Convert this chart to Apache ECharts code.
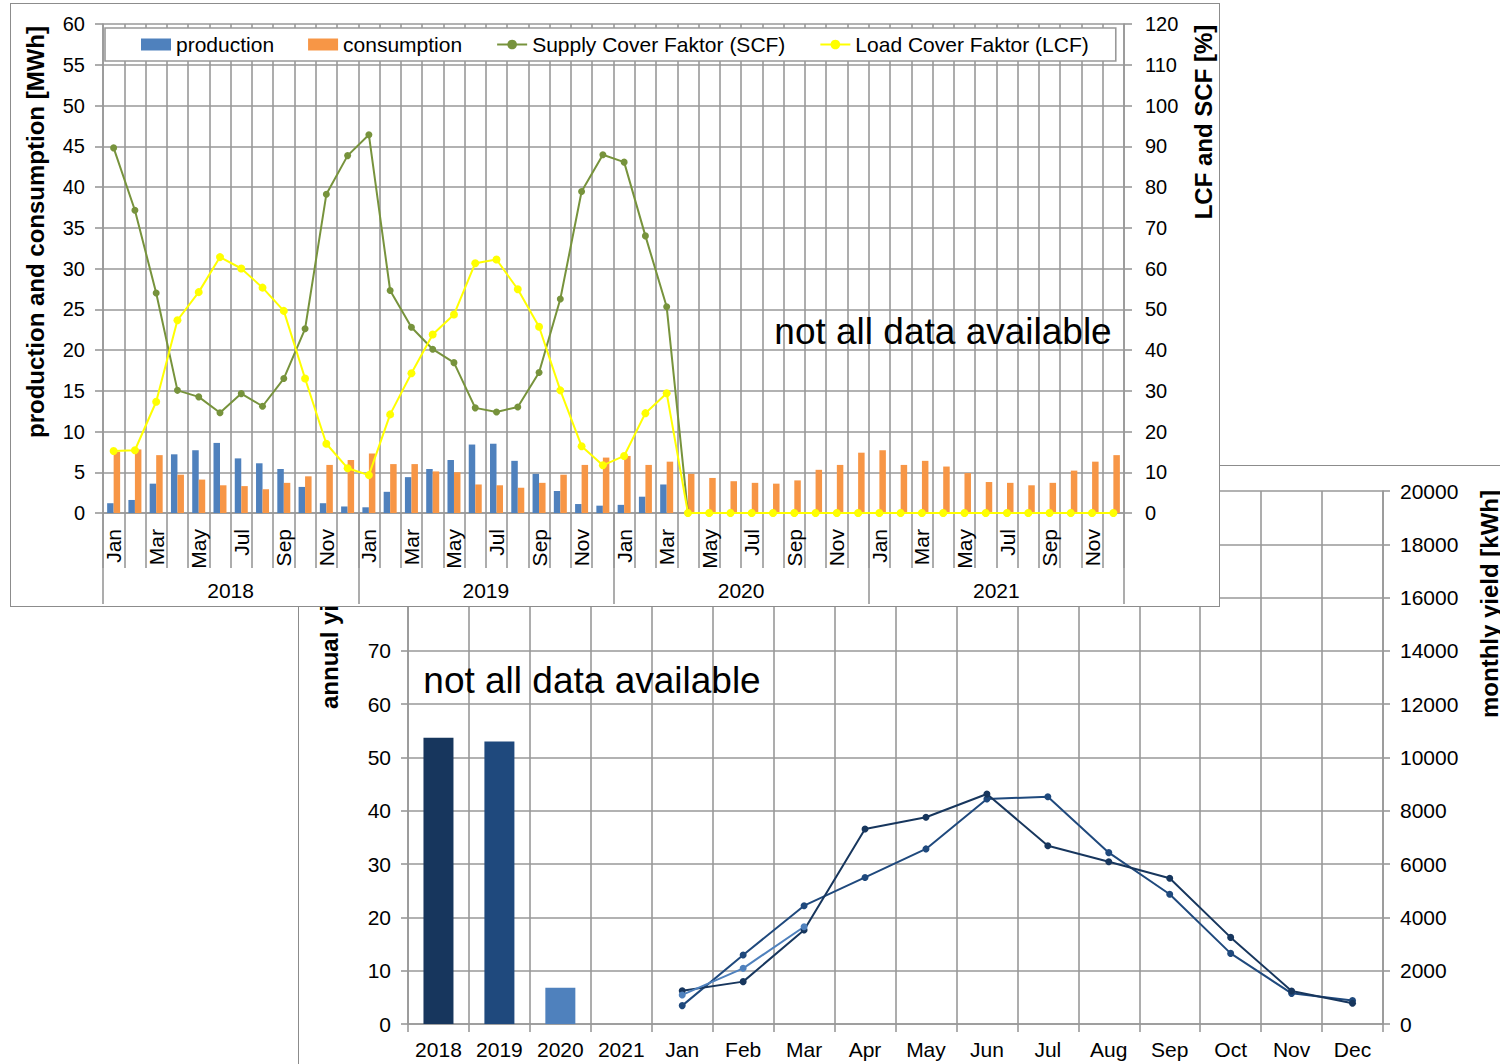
<!DOCTYPE html>
<html><head><meta charset="utf-8">
<script src="https://cdn.jsdelivr.net/npm/echarts/dist/echarts.min.js"></script>
<style>
html,body{margin:0;padding:0;width:1500px;height:1064px;overflow:hidden;background:#fff;}
#bottom{position:absolute;left:298px;top:465px;width:1300px;height:700px;border:1px solid #8c8c8c;background:#fff;}
#top{position:absolute;left:10px;top:3px;width:1208px;height:602px;border:1px solid #8c8c8c;background:#fff;}
</style></head><body>
<div id="bottom"></div><div id="top"></div>
<script>
// ---- data ----
const months = ['Jan','Feb','Mar','Apr','May','Jun','Jul','Aug','Sep','Oct','Nov','Dec'];
const years = ['2018','2019','2020','2021'];

// top chart (MWh), Jan 2018 .. Mar 2020
const production = [1.2, 1.6, 3.6, 7.2, 7.7, 8.6, 6.7, 6.1, 5.4, 3.2, 1.2, 0.8,
                    0.7, 2.6, 4.4, 5.4, 6.5, 8.4, 8.5, 6.4, 4.8, 2.7, 1.1, 0.9,
                    1.0, 2.0, 3.5];
// Jan 2018 .. Dec 2021 (MWh)
const consumption = [7.5, 7.8, 7.1, 4.7, 4.1, 3.4, 3.3, 2.9, 3.7, 4.5, 5.9, 6.5,
                     7.3, 6.0, 6.0, 5.1, 5.0, 3.5, 3.4, 3.1, 3.7, 4.7, 5.9, 6.8,
                     7.0, 5.9, 6.3, 4.8, 4.3, 3.9, 3.7, 3.6, 4.0, 5.3, 5.9, 7.4,
                     7.7, 5.9, 6.4, 5.7, 4.9, 3.8, 3.7, 3.4, 3.7, 5.2, 6.3, 7.1];
// %
const scf = [89.6, 74.3, 54.0, 30.1, 28.5, 24.6, 29.3, 26.2, 33.0, 45.2, 78.2, 87.7,
             92.8, 54.6, 45.6, 40.2, 36.9, 25.8, 24.8, 26.0, 34.5, 52.5, 78.9, 87.9,
             86.1, 68.0, 50.6, 0, 0, 0, 0, 0, 0, 0, 0, 0,
             0, 0, 0, 0, 0, 0, 0, 0, 0, 0, 0, 0];
const lcf = [15.2, 15.4, 27.3, 47.3, 54.2, 62.8, 60.0, 55.3, 49.6, 33.0, 17.0, 11.0,
             9.3, 24.2, 34.3, 43.8, 48.7, 61.3, 62.2, 54.9, 45.7, 30.1, 16.4, 11.7,
             14.0, 24.5, 29.4, 0, 0, 0, 0, 0, 0, 0, 0, 0,
             0, 0, 0, 0, 0, 0, 0, 0, 0, 0, 0, 0];

// bottom chart
const annualYield = [53.7, 53.0, 6.8, null];          // MWh
const monthly2018 = [1250, 1590, 3530, 7320, 7760, 8630, 6690, 6090, 5470, 3250, 1240, 780]; // kWh
const monthly2019 = [690, 2590, 4440, 5500, 6570, 8440, 8530, 6430, 4870, 2650, 1150, 880];
const monthly2020 = [1090, 2090, 3650];

// ---- styles ----
const FONT = '"Liberation Sans", Arial, sans-serif';
const GRID = '#999999';
const GW = 1.6;
const yearColors = ['#17365d', '#1f497d', '#4f81bd'];

// ---- top chart ----
const topCats = [];
years.forEach(function () { months.forEach(function (m) { topCats.push(m); }); });

const topChart = echarts.init(document.getElementById('top'), null, {renderer: 'svg'});
topChart.setOption({
  animation: false,
  textStyle: {fontFamily: FONT},
  grid: {left: 92, top: 20, width: 1021, height: 489},
  legend: {
    left: 94, top: 24, padding: [6, 27, 6, 36], itemGap: 34, itemWidth: 30, itemHeight: 12,
    backgroundColor: '#fff', borderColor: GRID, borderWidth: 1.6,
    textStyle: {fontSize: 21, color: '#000', fontFamily: FONT},
    data: [{name: 'production', icon: 'rect'}, {name: 'consumption', icon: 'rect'},
           'Supply Cover Faktor (SCF)', 'Load Cover Faktor (LCF)']
  },
  xAxis: [
    {type: 'category', data: topCats, boundaryGap: true,
     axisLine: {lineStyle: {color: GRID, width: GW}},
     axisTick: {show: true, interval: 0, length: 55, lineStyle: {color: GRID, width: GW}},
     axisLabel: {interval: 1, rotate: 90, margin: 16, fontSize: 21, color: '#000', fontFamily: FONT},
     splitLine: {show: true, interval: 0, lineStyle: {color: GRID, width: GW}}},
    {type: 'category', data: years, position: 'bottom', offset: 0, boundaryGap: true,
     axisLine: {show: false},
     axisTick: {show: true, interval: 0, length: 91, lineStyle: {color: GRID, width: GW}},
     axisLabel: {interval: 0, margin: 67, fontSize: 21, color: '#000', fontFamily: FONT},
     splitLine: {show: false}}
  ],
  yAxis: [
    {type: 'value', min: 0, max: 60, interval: 5, position: 'left',
     axisLine: {show: true, lineStyle: {color: GRID, width: GW}},
     axisTick: {show: true, length: 8, lineStyle: {color: GRID, width: GW}},
     axisLabel: {margin: 18, fontSize: 20, color: '#000', fontFamily: FONT},
     splitLine: {show: true, lineStyle: {color: GRID, width: GW}}},
    {type: 'value', min: 0, max: 120, interval: 10, position: 'right',
     axisLine: {show: true, lineStyle: {color: GRID, width: GW}},
     axisTick: {show: true, length: 8, lineStyle: {color: GRID, width: GW}},
     axisLabel: {margin: 21, fontSize: 20, color: '#000', fontFamily: FONT},
     splitLine: {show: false}}
  ],
  series: [
    {name: 'production', type: 'bar', xAxisIndex: 0, yAxisIndex: 0, data: production,
     barWidth: 6.5, barGap: '0%', itemStyle: {color: '#4f81bd'}},
    {name: 'consumption', type: 'bar', xAxisIndex: 0, yAxisIndex: 0, data: consumption,
     barWidth: 6.5, barGap: '0%', itemStyle: {color: '#f79646'}},
    {name: 'Supply Cover Faktor (SCF)', type: 'line', xAxisIndex: 0, yAxisIndex: 1, data: scf,
     symbol: 'circle', symbolSize: 7, lineStyle: {color: '#77933c', width: 2},
     itemStyle: {color: '#77933c'}},
    {name: 'Load Cover Faktor (LCF)', type: 'line', xAxisIndex: 0, yAxisIndex: 1, data: lcf,
     symbol: 'circle', symbolSize: 8, lineStyle: {color: '#ffff00', width: 2},
     itemStyle: {color: '#ffff00'}}
  ],
  graphic: [
    {type: 'text', x: 24, y: 228, rotation: Math.PI / 2, z: 100,
     style: {text: 'production and consumption [MWh]', fontSize: 24, fontWeight: 'bold', fontFamily: FONT,
             fill: '#000', align: 'center', verticalAlign: 'middle'}},
    {type: 'text', x: 1192, y: 118, rotation: Math.PI / 2, z: 100,
     style: {text: 'LCF and SCF [%]', fontSize: 24, fontWeight: 'bold', fontFamily: FONT,
             fill: '#000', align: 'center', verticalAlign: 'middle'}},
    {type: 'text', x: 932, y: 327, z: 100,
     style: {text: 'not all data available', fontSize: 37, fontFamily: FONT,
             fill: '#000', align: 'center', verticalAlign: 'middle'}}
  ]
});

// ---- bottom chart ----
const bottomCats = years.concat(months);
const lead = [null, null, null, null];
const bottomChart = echarts.init(document.getElementById('bottom'), null, {renderer: 'svg'});
bottomChart.setOption({
  animation: false,
  textStyle: {fontFamily: FONT},
  grid: {left: 109, top: 25, width: 975, height: 533},
  xAxis: {type: 'category', data: bottomCats, boundaryGap: true,
    axisLine: {lineStyle: {color: GRID, width: GW}},
    axisTick: {show: true, interval: 0, length: 8, lineStyle: {color: GRID, width: GW}},
    axisLabel: {interval: 0, margin: 15, fontSize: 21, color: '#000', fontFamily: FONT},
    splitLine: {show: true, interval: 0, lineStyle: {color: GRID, width: GW}}},
  yAxis: [
    {type: 'value', min: 0, max: 100, interval: 10, position: 'left',
     axisLine: {show: true, lineStyle: {color: GRID, width: GW}},
     axisTick: {show: true, length: 7, lineStyle: {color: GRID, width: GW}},
     axisLabel: {margin: 17, fontSize: 21, color: '#000', fontFamily: FONT},
     splitLine: {show: true, lineStyle: {color: GRID, width: GW}}},
    {type: 'value', min: 0, max: 20000, interval: 2000, position: 'right',
     axisLine: {show: true, lineStyle: {color: GRID, width: GW}},
     axisTick: {show: true, length: 7, lineStyle: {color: GRID, width: GW}},
     axisLabel: {margin: 17, fontSize: 21, color: '#000', fontFamily: FONT,
                 formatter: function (v) { return String(v); }},
     splitLine: {show: false}}
  ],
  series: [
    {name: 'annual yield', type: 'bar', yAxisIndex: 0, barWidth: 30,
     data: annualYield.map(function (v, i) { return {value: v, itemStyle: {color: yearColors[i]}}; })},
    {name: '2019', type: 'line', yAxisIndex: 1, data: lead.concat(monthly2019),
     symbol: 'circle', symbolSize: 7, lineStyle: {color: yearColors[1], width: 2},
     itemStyle: {color: yearColors[1]}},
    {name: '2018', type: 'line', yAxisIndex: 1, data: lead.concat(monthly2018),
     symbol: 'circle', symbolSize: 7, lineStyle: {color: yearColors[0], width: 2},
     itemStyle: {color: yearColors[0]}},
    {name: '2020', type: 'line', yAxisIndex: 1, data: lead.concat(monthly2020),
     symbol: 'circle', symbolSize: 7, lineStyle: {color: yearColors[2], width: 2},
     itemStyle: {color: yearColors[2]}}
  ],
  graphic: [
    {type: 'text', x: 30, y: 243, rotation: Math.PI / 2, z: 100,
     style: {text: 'annual yield [MWh]', fontSize: 24, fontWeight: 'bold', fontFamily: FONT,
             fill: '#000', align: 'left', verticalAlign: 'middle'}},
    {type: 'text', x: 1190, y: 252, rotation: Math.PI / 2, z: 100,
     style: {text: 'monthly yield [kWh]', fontSize: 24, fontWeight: 'bold', fontFamily: FONT,
             fill: '#000', align: 'left', verticalAlign: 'middle'}},
    {type: 'text', x: 293, y: 214, z: 100,
     style: {text: 'not all data available', fontSize: 37, fontFamily: FONT,
             fill: '#000', align: 'center', verticalAlign: 'middle'}}
  ]
});
</script>
</body></html>
